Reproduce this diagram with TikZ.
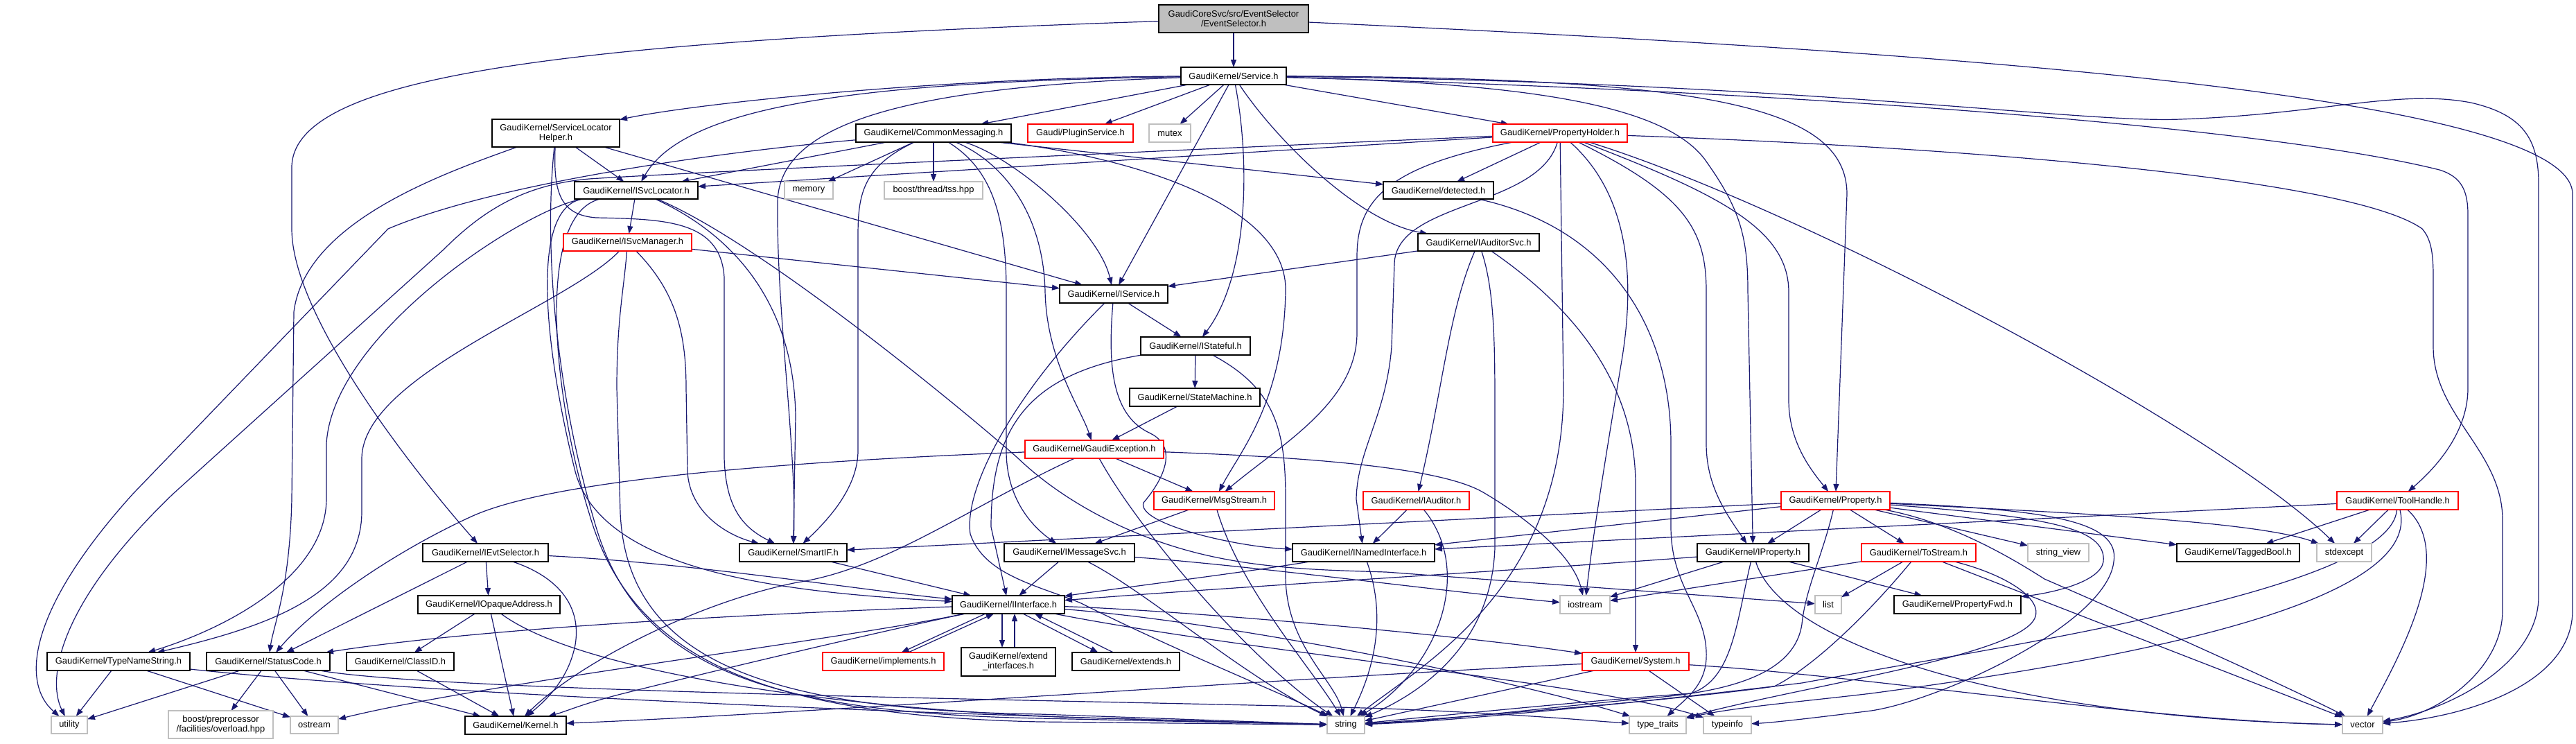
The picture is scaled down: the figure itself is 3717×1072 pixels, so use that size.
\documentclass[tikz,border=0pt]{standalone}
\usepackage{fontspec}
\setmainfont{Liberation Sans}
\usetikzlibrary{arrows.meta}
\definecolor{edgec}{HTML}{191970}
\definecolor{gbord}{HTML}{BFBFBF}
\definecolor{esfill}{HTML}{BFBFBF}
\pgfdeclarelayer{bg}
\pgfsetlayers{bg,main}
\newcommand{\gnode}[6]{\node[#1, minimum width=#4pt, minimum height=#5pt] (#2) at (#3) {#6};}
\begin{document}
\begin{tikzpicture}[x=1pt,y=-1pt,
  base/.style={inner sep=0pt, outer sep=0pt, align=center, font=\fontsize{12.9}{14}\selectfont, fill=white, text=black},
  nb/.style={base, draw=black, line width=1.6pt},
  nr/.style={base, draw=red, line width=1.4pt},
  ng/.style={base, draw=gbord, line width=1.4pt},
  e/.style={draw=edgec, line width=1.2pt, -{Triangle[length=11pt,width=8pt]}}]
\useasboundingbox (0,0) rectangle (3717,1072);
% ---------------- nodes
\gnode{nb,fill=esfill}{ES}{1780,27}{216}{40}{GaudiCoreSvc/src/EventSelector\\/EventSelector.h}
\gnode{nb}{SVC}{1780,109.5}{152}{25}{GaudiKernel/Service.h}
\gnode{nb}{SLH}{802,192}{184}{40}{GaudiKernel/ServiceLocator\\Helper.h}
\gnode{nb}{CM}{1347,192}{224}{26}{GaudiKernel/CommonMessaging.h}
\gnode{nr}{PS}{1559,192}{152}{26}{Gaudi/PluginService.h}
\gnode{ng}{MUT}{1688,192}{60}{26}{mutex}
\gnode{nr}{PH}{2251,192}{194}{26}{GaudiKernel/PropertyHolder.h}
\gnode{nb}{ISL}{918,274.5}{178}{25}{GaudiKernel/ISvcLocator.h}
\gnode{ng}{MEM}{1167,274.5}{70}{25}{memory}
\gnode{ng}{TSS}{1347,274.5}{142}{25}{boost/thread/tss.hpp}
\gnode{nb}{DET}{2075.5,274.5}{159}{25}{GaudiKernel/detected.h}
\gnode{nb}{IAS}{2133.5,349.5}{175}{25}{GaudiKernel/IAuditorSvc.h}
\gnode{nr}{ISM}{905.5,349.5}{185}{25}{GaudiKernel/ISvcManager.h}
\gnode{nb}{IS}{1607,424}{156}{26}{GaudiKernel/IService.h}
\gnode{nb}{IST}{1725,499}{158}{26}{GaudiKernel/IStateful.h}
\gnode{nb}{SM}{1724,573}{188}{26}{GaudiKernel/StateMachine.h}
\gnode{nr}{GE}{1579,648}{200}{26}{GaudiKernel/GaudiException.h}
\gnode{nr}{MS}{1752,722}{174}{26}{GaudiKernel/MsgStream.h}
\gnode{nr}{IA}{2043.5,722}{153}{26}{GaudiKernel/IAuditor.h}
\gnode{nr}{PR}{2648.5,722}{157}{26}{GaudiKernel/Property.h}
\gnode{nr}{TH}{3459.5,722}{175}{26}{GaudiKernel/ToolHandle.h}
\gnode{nb}{IES}{700.5,797}{181}{26}{GaudiKernel/IEvtSelector.h}
\gnode{nb}{SIF}{1144.5,797}{155}{26}{GaudiKernel/SmartIF.h}
\gnode{nb}{IMS}{1543,797}{188}{26}{GaudiKernel/IMessageSvc.h}
\gnode{nb}{INI}{1967.5,797}{205}{26}{GaudiKernel/INamedInterface.h}
\gnode{nb}{IP}{2529.5,797}{161}{26}{GaudiKernel/IProperty.h}
\gnode{nr}{TS}{2768.5,797}{165}{26}{GaudiKernel/ToStream.h}
\gnode{ng}{SV}{2970,797}{88}{26}{string\_view}
\gnode{nb}{TB}{3229.5,797}{177}{26}{GaudiKernel/TaggedBool.h}
\gnode{ng}{SE}{3382.5,797}{79}{26}{stdexcept}
\gnode{nb}{IOA}{705.5,872}{205}{26}{GaudiKernel/IOpaqueAddress.h}
\gnode{nb}{II}{1455,872}{162}{26}{GaudiKernel/IInterface.h}
\gnode{ng}{IOS}{2287,872}{72}{26}{iostream}
\gnode{ng}{LST}{2638,872}{38}{26}{list}
\gnode{nb}{PF}{2824.5,872}{183}{26}{GaudiKernel/PropertyFwd.h}
\gnode{nb}{TNS}{171,954}{206}{26}{GaudiKernel/TypeNameString.h}
\gnode{nb}{SC}{387,954}{178}{26}{GaudiKernel/StatusCode.h}
\gnode{nb}{CID}{577.5,954}{155}{26}{GaudiKernel/ClassID.h}
\gnode{nr}{IMP}{1274.5,954}{175}{26}{GaudiKernel/implements.h}
\gnode{nb}{EI}{1455,954.5}{136}{41}{GaudiKernel/extend\\\_interfaces.h}
\gnode{nb}{EXT}{1624.5,954}{155}{26}{GaudiKernel/extends.h}
\gnode{nr}{SYS}{2360,954}{154}{26}{GaudiKernel/System.h}
\gnode{ng}{UT}{100,1045.5}{52}{25}{utility}
\gnode{ng}{BPO}{318.5,1045}{151}{40}{boost/preprocessor\\/facilities/overload.hpp}
\gnode{ng}{OST}{453.5,1045.5}{69}{25}{ostream}
\gnode{nb}{KER}{744,1046}{146}{26}{GaudiKernel/Kernel.h}
\gnode{ng}{STR}{1942,1045.5}{54}{25}{string}
\gnode{ng}{TT}{2392,1045.5}{82}{25}{type\_traits}
\gnode{ng}{TI}{2492.5,1045.5}{69}{25}{typeinfo}
\gnode{ng}{VEC}{3409,1045.5}{58}{25}{vector}
% ---------------- edges
\begin{pgfonlayer}{bg}
\fill[white] (0,0) rectangle (3717,1072);
% EventSelector
\draw[e] (ES) -- (SVC);
\draw[e] (ES) .. controls (800,60) and (425,110) .. (421,240) -- (421,330) .. controls (421,450) and (580,660) .. (IES);
\draw[e] (ES) .. controls (2700,70) and (3712,130) .. (3712,280) -- (3712,880) .. controls (3712,990) and (3550,1035) .. (VEC);
% Service
\draw[e] (SVC) .. controls (1350,112) and (1000,150) .. (SLH);
\draw[e] (SVC) .. controls (1250,118) and (990,150) .. (ISL);
\draw[e] (SVC) .. controls (1300,125) and (1125,180) .. (1122,290) .. controls (1120,450) and (1150,650) .. (SIF);
\draw[e] (SVC) -- (CM);
\draw[e] (SVC) -- (PS);
\draw[e] (SVC) -- (MUT);
\draw[e] (SVC) -- (IS);
\draw[e] (SVC) .. controls (1805,240) and (1800,400) .. (IST);
\draw[e] (SVC) .. controls (1840,200) and (1960,320) .. (IAS);
\draw[e] (SVC) -- (PH);
\draw[e] (SVC) .. controls (2200,120) and (2400,150) .. (2460,230) .. controls (2510,300) and (2522,340) .. (2522,420) -- (IP);
\draw[e] (SVC) .. controls (2450,112) and (2665,150) .. (2665,280) -- (PR);
\draw[e] (SVC) .. controls (2700,135) and (3300,190) .. (3520,245) .. controls (3552,255) and (3561,275) .. (3561,310) -- (3561,560) .. controls (3561,620) and (3520,670) .. (TH);
\draw[e] (SVC) .. controls (2600,118) and (3000,178) .. (3146,172) .. controls (3350,165) and (3460,128) .. (3565,148) .. controls (3640,165) and (3663,200) .. (3663,265) -- (3663,860) .. controls (3663,955) and (3540,1022) .. (VEC);
% ServiceLocatorHelper
\draw[e] (SLH) .. controls (640,250) and (440,320) .. (424,450) -- (421,720) .. controls (418,850) and (395,900) .. (SC);
\draw[e] (SLH) .. controls (785,350) and (800,560) .. (860,760) .. controls (920,960) and (1100,1028) .. (1500,1036) -- (STR);
\draw[e] (SLH) -- (ISL);
\draw[e] (SLH) -- (IS);
\draw[e] (SLH) .. controls (798,280) and (810,310) .. (860,314) .. controls (960,316) and (1040,318) .. (1045,400) -- (1045,660) .. controls (1047,730) and (1070,760) .. (SIF);
% CommonMessaging
\draw[e] (CM) .. controls (1050,218) and (720,262) .. (560,330) -- (192,712) .. controls (40,880) and (30,985) .. (UT);
\draw[e] (CM) -- (ISL);
\draw[e] (CM) -- (MEM);
\draw[e] (CM) .. controls (1245,240) and (1238,280) .. (1238,340) -- (1238,650) .. controls (1238,700) and (1200,745) .. (SIF);
\draw[e] (CM) -- (TSS);
\draw[e] (CM) .. controls (1425,240) and (1452,300) .. (1452,420) -- (1452,650) .. controls (1452,720) and (1490,760) .. (IMS);
\draw[e] (CM) .. controls (1440,230) and (1505,300) .. (1508,420) .. controls (1510,520) and (1560,590) .. (GE);
\draw[e] (CM) .. controls (1460,225) and (1585,330) .. (IS);
\draw[e] (CM) .. controls (1650,230) and (1858,300) .. (1855,420) .. controls (1852,580) and (1790,650) .. (MS);
\draw[e] ([xshift=-20pt]CM.south east) -- (DET);
% PropertyHolder
\draw[e] (PH) -- (ISL);
\draw[e] (PH) .. controls (1800,212) and (1000,248) .. (850,258) .. controls (760,266) and (700,300) .. (640,360) -- (250,712) .. controls (75,880) and (70,985) .. (UT);
\draw[e] (PH) .. controls (2000,240) and (1958,290) .. (1958,370) -- (1958,480) .. controls (1958,580) and (1850,640) .. (MS);
\draw[e] (PH) .. controls (2220,300) and (2015,290) .. (2012,380) -- (2008,500) .. controls (2000,600) and (1958,650) .. (1957,720) -- (INI);
\draw[e] (PH) -- (DET);
\draw[e] (PH) -- (2256,560) .. controls (2256,850) and (2050,960) .. (STR);
\draw[e] (PH) .. controls (2350,280) and (2360,400) .. (2340,520) .. controls (2320,640) and (2300,760) .. (IOS);
\draw[e] (PH) .. controls (2430,280) and (2462,330) .. (2462,420) -- (2462,640) .. controls (2462,700) and (2490,740) .. (IP);
\draw[e] (PH) .. controls (2480,280) and (2580,330) .. (2581,420) -- (2581,580) .. controls (2582,640) and (2615,680) .. (PR);
\draw[e] (PH) .. controls (2600,300) and (3200,620) .. (SE);
\draw[e] (PH) .. controls (2900,215) and (3400,262) .. (3495,330) .. controls (3508,345) and (3511,365) .. (3511,400) -- (3511,500) .. controls (3511,600) and (3611,650) .. (3611,750) -- (3611,880) .. controls (3611,965) and (3520,1030) .. (VEC);
% ISvcLocator
\draw[e] (ISL) -- (ISM);
\draw[e] (ISL) .. controls (760,300) and (480,480) .. (471,640) -- (471,720) .. controls (470,830) and (330,905) .. (TNS);
\draw[e] (ISL) .. controls (1040,330) and (1145,420) .. (1148,600) -- (SIF);
\draw[e] (ISL) .. controls (1100,350) and (1400,600) .. (1468,660) .. controls (1520,710) and (1600,760) .. (1700,790) .. controls (1800,820) and (1900,822) .. (2000,825) -- (LST);
\draw[e] (ISL) .. controls (760,300) and (790,520) .. (830,680) .. controls (870,830) and (1150,855) .. (II);
\draw[e] (ISL) .. controls (770,310) and (800,580) .. (850,740) .. controls (910,950) and (1100,1032) .. (1500,1041) -- (STR);
% ISvcManager
\draw[e] (ISM) -- (IS);
\draw[e] (ISM) .. controls (820,440) and (525,540) .. (522,660) -- (522,740) .. controls (520,860) and (380,905) .. (TNS);
\draw[e] (ISM) .. controls (975,420) and (990,480) .. (990,560) -- (992,680) .. controls (995,740) and (1050,772) .. (SIF);
\draw[e] (ISM) .. controls (900,420) and (890,460) .. (890,560) -- (895,740) .. controls (905,950) and (1100,1024) .. (1500,1030) -- (STR);
% IAuditorSvc
\draw[e] (IAS) .. controls (2090,450) and (2082,560) .. (IA);
\draw[e] (IAS) .. controls (2157,420) and (2157,500) .. (2157,600) -- (2157,790) .. controls (2152,930) and (2050,1000) .. (STR);
\draw[e] (IAS) .. controls (2280,450) and (2360,560) .. (2360,700) -- (SYS);
\draw[e] (IAS) -- (IS);
% IService
\draw[e] (IS) -- (IST);
\draw[e] (IS) .. controls (1598,530) and (1605,600) .. (1660,625) .. controls (1700,645) and (1680,690) .. (1650,725) .. controls (1640,755) and (1780,788) .. (INI);
\draw[e] (IS) .. controls (1470,560) and (1390,700) .. (1400,770) .. controls (1420,830) and (1500,845) .. (1560,870) .. controls (1700,940) and (1850,1000) .. (STR);
% IStateful
\draw[e] (IST) -- (SM);
\draw[e] (IST) .. controls (1480,540) and (1430,620) .. (1430,760) -- (II);
\draw[e] (IST) .. controls (1840,560) and (1855,620) .. (1855,720) -- (1855,830) .. controls (1855,930) and (1925,980) .. (STR);
\draw[e] (SM) -- (GE);
% GaudiException
\draw[e] (GE) -- (MS);
\draw[e] (GE) .. controls (1900,660) and (2080,675) .. (2140,710) .. controls (2200,745) and (2270,800) .. (IOS);
\draw[e] (GE) .. controls (1150,665) and (800,690) .. (680,745) .. controls (560,800) and (450,880) .. (SC);
\draw[e] (GE) .. controls (1400,730) and (1280,820) .. (1150,840) .. controls (1000,870) and (830,960) .. (KER);
\draw[e] (GE) .. controls (1640,760) and (1800,950) .. (STR);
% IInterface
\draw[e] (II) .. controls (1100,885) and (700,905) .. (SC);
\draw[e] (II) .. controls (1200,925) and (700,985) .. (OST);
\draw[e] (II) .. controls (1250,915) and (1000,975) .. (900,1000) .. controls (840,1015) and (820,1025) .. (KER);
\draw[e] (II) .. controls (1700,880) and (2100,915) .. (SYS);
\draw[e] (II) .. controls (1800,900) and (2200,985) .. (TT);
\draw[e] (II) .. controls (1800,940) and (2300,985) .. (TI);
\draw[e] ([xshift=-33pt]II.south) -- ([xshift=26pt]IMP.north);
\draw[e] ([xshift=36pt]IMP.north) -- ([xshift=-21pt]II.south);
\draw[e] ([xshift=-9pt]II.south) -- ([xshift=-9pt]EI.north);
\draw[e] ([xshift=9pt]EI.north) -- ([xshift=9pt]II.south);
\draw[e] ([xshift=21pt]II.south) -- ([xshift=-40pt]EXT.north);
\draw[e] ([xshift=-18pt]EXT.north) -- ([xshift=38pt]II.south);
% SmartIF, IMessageSvc, MsgStream
\draw[e] (SIF) -- (II);
\draw[e] (IMS) -- (II);
\draw[e] (IMS) .. controls (1800,815) and (2100,855) .. (IOS);
\draw[e] (IMS) .. controls (1650,850) and (1800,980) .. (STR);
\draw[e] (MS) -- (IMS);
\draw[e] (MS) .. controls (1790,850) and (1890,960) .. (STR);
% IAuditor, INamedInterface
\draw[e] (IA) -- (INI);
\draw[e] (IA) .. controls (2125,820) and (2080,960) .. (STR);
\draw[e] (INI) .. controls (1800,825) and (1600,850) .. (II);
\draw[e] (INI) .. controls (2005,900) and (1975,980) .. (STR);
% IProperty
\draw[e] (IP) .. controls (2200,822) and (1800,845) .. (II);
\draw[e] (IP) -- (IOS);
\draw[e] (IP) .. controls (2505,900) and (2500,980) .. (2440,1000) .. controls (2300,1010) and (2100,1030) .. (STR);
\draw[e] (IP) -- (PF);
\draw[e] (IP) .. controls (2570,930) and (2900,1035) .. (VEC);
% ToStream
\draw[e] (TS) -- (IOS);
\draw[e] (TS) -- (LST);
\draw[e] (TS) .. controls (2700,880) and (2620,960) .. (2560,990) .. controls (2400,1012) and (2100,1035) .. (STR);
\draw[e] (TS) -- (VEC);
\draw[e] (TS) .. controls (2900,830) and (2960,870) .. (2930,900) .. controls (2880,950) and (2600,990) .. (TT);
% Property
\draw[e] (PR) -- (SIF);
\draw[e] (PR) -- (INI);
\draw[e] (PR) -- (IP);
\draw[e] (PR) .. controls (2630,800) and (2605,850) .. (2600,900) .. controls (2590,970) and (2500,995) .. (2400,1005) .. controls (2250,1018) and (2100,1038) .. (STR);
\draw[e] (PR) -- (TS);
\draw[e] (PR) -- (SV);
\draw[e] (PR) -- (TB);
\draw[e] (PR) .. controls (2950,738) and (3250,750) .. (SE);
\draw[e] (PR) .. controls (2950,745) and (3040,760) .. (3035,810) .. controls (3030,840) and (2960,855) .. (PF);
\draw[e] (PR) .. controls (2950,735) and (3060,750) .. (3050,810) .. controls (3040,900) and (2800,1010) .. (2700,1025) .. controls (2620,1035) and (2560,1042) .. (TI);
\draw[e] (PR) .. controls (2800,750) and (2880,790) .. (2950,835) .. controls (3100,900) and (3300,990) .. (VEC);
% ToolHandle
\draw[e] (TH) -- (INI);
\draw[e] (TH) -- (TB);
\draw[e] (TH) -- (SE);
\draw[e] (TH) .. controls (3450,850) and (2900,930) .. (2600,985) .. controls (2350,1015) and (2100,1040) .. (STR);
\draw[e] (TH) .. controls (3500,880) and (3000,960) .. (2700,1000) .. controls (2600,1012) and (2500,1020) .. (TT);
\draw[e] (TH) .. controls (3545,800) and (3460,950) .. (VEC);
% System
\draw[e] (SYS) .. controls (1900,975) and (1150,1030) .. (KER);
\draw[e] (SYS) -- (STR);
\draw[e] (SYS) -- (TI);
\draw[e] (SYS) .. controls (2700,975) and (3100,1040) .. (VEC);
% TypeNameString, StatusCode, ClassID, IOpaqueAddress, IEvtSelector
\draw[e] (TNS) -- (UT);
\draw[e] (TNS) -- (OST);
\draw[e] (TNS) .. controls (600,1000) and (1300,1030) .. (STR);
\draw[e] (SC) -- (UT);
\draw[e] (SC) -- (BPO);
\draw[e] (SC) -- (OST);
\draw[e] (SC) -- (KER);
\draw[e] (SC) .. controls (650,1000) and (1700,1012) .. (2000,1022) .. controls (2200,1030) and (2300,1040) .. (TT);
\draw[e] (CID) -- (KER);
\draw[e] (IOA) -- (CID);
\draw[e] (IOA) -- (KER);
\draw[e] (IOA) .. controls (850,980) and (1300,1030) .. (1600,1036) -- (STR);
\draw[e] (IES) -- (SC);
\draw[e] (IES) -- (IOA);
\draw[e] (IES) .. controls (1000,812) and (1250,852) .. (II);
\draw[e] (IES) .. controls (800,830) and (840,870) .. (830,930) .. controls (822,970) and (800,1000) .. (KER);
% detected
\draw[e] (DET) .. controls (2330,330) and (2411,480) .. (2411,640) -- (2411,760) .. controls (2411,850) and (2465,880) .. (2462,950) .. controls (2460,990) and (2430,1010) .. (TT);
\end{pgfonlayer}
\end{tikzpicture}
\end{document}
